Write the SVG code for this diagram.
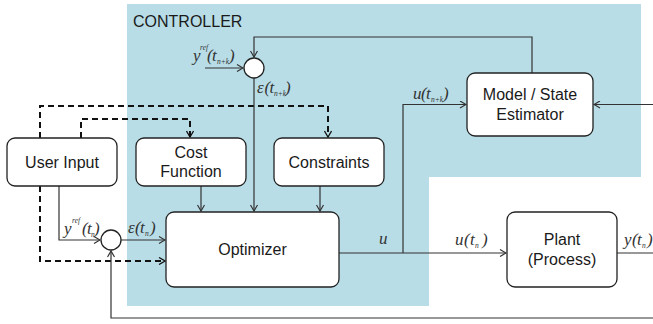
<svg xmlns="http://www.w3.org/2000/svg" width="653" height="324" viewBox="0 0 653 324">
  <style>
    .box { fill: #ffffff; stroke: #222222; stroke-width: 1.3; }
    .lbl { font-family: "Liberation Sans", Arial, sans-serif; font-size: 16px; fill: #1a1a1a; text-anchor: middle; }
    .wire { fill: none; stroke: #333333; stroke-width: 1.2; }
    .dash { fill: none; stroke: #111111; stroke-width: 2; stroke-dasharray: 6 4; }
    .math { font-family: "Liberation Serif", "Times New Roman", serif; font-style: italic; font-size: 17px; fill: #333333; }
    .sub { font-size: 7.5px; }
    .sum { fill: #ffffff; stroke: #222222; stroke-width: 1.3; }
  </style>
  <defs>
    <marker id="arrow" viewBox="0 0 8 8" refX="7" refY="4" markerWidth="8" markerHeight="8" markerUnits="userSpaceOnUse" orient="auto">
      <path d="M1,0.5 L7,4 L1,7.5" fill="none" stroke="#333333" stroke-width="1.2"/>
    </marker>
    <marker id="arrow-d" viewBox="0 0 8 8" refX="7" refY="4" markerWidth="8" markerHeight="8" markerUnits="userSpaceOnUse" orient="auto">
      <path d="M1,0.5 L7,4 L1,7.5" fill="none" stroke="#111111" stroke-width="1.3"/>
    </marker>
  </defs>

  <!-- controller region -->
  <g id="controller-region">
    <path d="M127,4 H641 V177 H429 V306 H127 Z" fill="#b8dde7"/>
    <text x="133" y="27" class="lbl" style="text-anchor:start">CONTROLLER</text>
  </g>

  <!-- connectors -->
  <g id="connectors">
    <!-- dashed user-input paths -->
    <path class="dash" d="M40,138 V106 H328 V137" marker-end="url(#arrow-d)"/>
    <path class="dash" d="M81,138 V119 H190 V137" marker-end="url(#arrow-d)"/>
    <path class="dash" d="M40,186 V261 H165" marker-end="url(#arrow-d)"/>
    <!-- reference and error paths -->
    <path class="wire" d="M59,186 V240 H100" marker-end="url(#arrow)"/>
    <path class="wire" d="M121,240 H165" marker-end="url(#arrow)"/>
    <path class="wire" d="M653,318 H111 V251" marker-end="url(#arrow)"/>
    <path class="wire" d="M205,68 H243" marker-end="url(#arrow)"/>
    <path class="wire" d="M532,73 V37 H254 V57" marker-end="url(#arrow)"/>
    <path class="wire" d="M254,78 V211" marker-end="url(#arrow)"/>
    <!-- cost and constraints into optimizer -->
    <path class="wire" d="M201,186 V211" marker-end="url(#arrow)"/>
    <path class="wire" d="M320,186 V211" marker-end="url(#arrow)"/>
    <!-- control output -->
    <path class="wire" d="M339,253 H506" marker-end="url(#arrow)"/>
    <path class="wire" d="M403,253 V104.5 H466" marker-end="url(#arrow)"/>
    <path class="wire" d="M653,104.5 H594" marker-end="url(#arrow)"/>
    <path class="wire" d="M617,253 H653"/>

    <!-- signal labels -->
    <text class="math"><tspan x="193" y="61">y</tspan><tspan class="sub" x="200" y="50">ref</tspan><tspan x="207" y="61">(</tspan><tspan x="212" y="61">t</tspan><tspan class="sub" x="217" y="64">n+k</tspan><tspan x="229" y="61">)</tspan></text>
    <text class="math"><tspan x="257" y="93">ε</tspan><tspan x="264.5" y="93">(</tspan><tspan x="269.5" y="93">t</tspan><tspan class="sub" x="274" y="96">n+k</tspan><tspan x="285" y="93">)</tspan></text>
    <text class="math"><tspan x="64" y="234">y</tspan><tspan class="sub" x="72" y="223">ref</tspan><tspan x="82" y="234">(</tspan><tspan x="87" y="234">t</tspan><tspan class="sub" x="91" y="237">n</tspan><tspan x="94" y="234">)</tspan></text>
    <text class="math"><tspan x="128" y="233">ε</tspan><tspan x="135" y="233">(</tspan><tspan x="140" y="233">t</tspan><tspan class="sub" x="145" y="236">n</tspan><tspan x="150" y="233">)</tspan></text>
    <text class="math" x="379" y="244">u</text>
    <text class="math"><tspan x="455" y="245">u</tspan><tspan x="464" y="245">(</tspan><tspan x="470" y="245">t</tspan><tspan class="sub" x="475" y="248">n</tspan><tspan x="482" y="245">)</tspan></text>
    <text class="math"><tspan x="413" y="99">u</tspan><tspan x="421" y="99">(</tspan><tspan x="426" y="99">t</tspan><tspan class="sub" x="431" y="102">n+k</tspan><tspan x="443" y="99">)</tspan></text>
    <text class="math"><tspan x="624" y="245">y</tspan><tspan x="632" y="245">(</tspan><tspan x="637" y="245">t</tspan><tspan class="sub" x="642" y="248">n</tspan><tspan x="647" y="245">)</tspan></text>
  </g>

  <!-- summing junctions -->
  <g id="sum-top"><circle class="sum" cx="254" cy="68" r="10"/></g>
  <g id="sum-bottom"><circle class="sum" cx="111" cy="240" r="10"/></g>

  <!-- blocks -->
  <g id="user-input">
    <rect class="box" x="7" y="138" width="110" height="48" rx="8"/>
    <text class="lbl" x="62" y="168">User Input</text>
  </g>
  <g id="cost-function">
    <rect class="box" x="136" y="138" width="110" height="48" rx="8"/>
    <text class="lbl" x="191" y="158">Cost</text>
    <text class="lbl" x="191" y="177">Function</text>
  </g>
  <g id="constraints">
    <rect class="box" x="274" y="138" width="110" height="48" rx="8"/>
    <text class="lbl" x="329" y="168">Constraints</text>
  </g>
  <g id="optimizer">
    <rect class="box" x="166" y="212" width="173" height="75" rx="8"/>
    <text class="lbl" x="252.5" y="255">Optimizer</text>
  </g>
  <g id="model-estimator">
    <rect class="box" x="467" y="73" width="126" height="63" rx="8"/>
    <text class="lbl" x="530" y="100">Model / State</text>
    <text class="lbl" x="530" y="120">Estimator</text>
  </g>
  <g id="plant">
    <rect class="box" x="507" y="212" width="110" height="75" rx="8"/>
    <text class="lbl" x="562" y="245">Plant</text>
    <text class="lbl" x="562" y="265">(Process)</text>
  </g>
</svg>
